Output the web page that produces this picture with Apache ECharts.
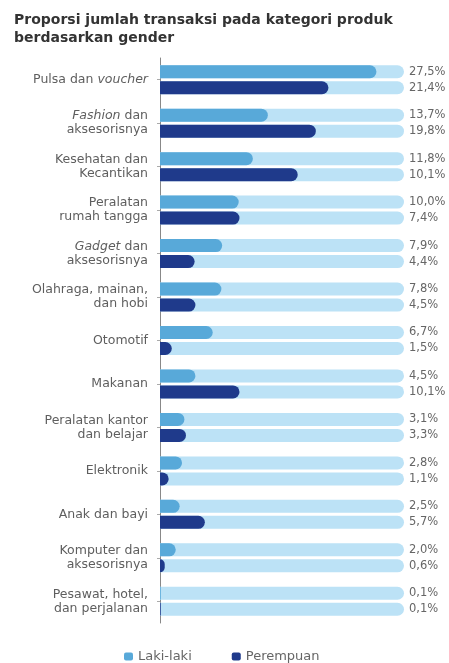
<!DOCTYPE html>
<html>
<head>
<meta charset="utf-8">
<script src="https://cdn.jsdelivr.net/npm/echarts@6/dist/echarts.min.js"></script>
<style>
html,body{margin:0;padding:0;background:#fff;}
#c{width:449px;height:663px;}
</style>
</head>
<body>
<div id="c"></div>
<script>
const titleText = 'Proporsi jumlah transaksi pada kategori produk\nberdasarkan gender';
const categories = ['Pulsa dan voucher','Fashion dan\naksesorisnya','Kesehatan dan\nKecantikan','Peralatan\nrumah tangga','Gadget dan\naksesorisnya','Olahraga, mainan,\ndan hobi','Otomotif','Makanan','Peralatan kantor\ndan belajar','Elektronik','Anak dan bayi','Komputer dan\naksesorisnya','Pesawat, hotel,\ndan perjalanan'];
const italicWords = ['voucher','Fashion','Gadget'];
const seriesNames = ['Laki-laki','Perempuan'];
// bar lengths as drawn in the picture
const maleBars = [27.5,13.7,11.8,10.0,7.9,7.8,6.7,4.5,3.1,2.8,2.5,2.0,0.1];
const femaleBars = [21.4,19.8,17.5,10.1,4.4,4.5,1.5,10.1,3.3,1.1,5.7,0.6,0.1];
// value labels as printed in the picture
const maleLabels = ['27,5%','13,7%','11,8%','10,0%','7,9%','7,8%','6,7%','4,5%','3,1%','2,8%','2,5%','2,0%','0,1%'];
const femaleLabels = ['21,4%','19,8%','10,1%','7,4%','4,4%','4,5%','1,5%','10,1%','3,3%','1,1%','5,7%','0,6%','0,1%'];
const trackMax = 31;

const C_LIGHT = '#58a9d9', C_DARK = '#1f3a8b', C_TRACK = '#bce2f6';
const FONT = 'DejaVu Sans';
const BW = 13, GAP = '23%';

const chart = echarts.init(document.getElementById('c'));
function catFmt(v){
  let s = v;
  italicWords.forEach(w => { s = s.replace(w, '{i|' + w + '}'); });
  return s;
}
const trackData = categories.map(() => trackMax);
chart.setOption({
  animation: false,
  title: {
    text: titleText, left: 9, top: 6,
    textStyle: {fontFamily: FONT, fontSize: 14, fontWeight: 'bold', color: '#333', lineHeight: 18}
  },
  legend: {
    data: seriesNames, top: 645, left: 119, itemWidth: 9, itemHeight: 8, itemGap: 40,
    icon: 'roundRect',
    textStyle: {fontFamily: FONT, fontSize: 13, color: '#666'}
  },
  grid: {left: 160, right: 45, top: 58, bottom: 40, containLabel: false},
  xAxis: {type: 'value', min: 0, max: trackMax, show: false},
  yAxis: [{
    type: 'category', data: categories, inverse: true,
    axisLine: {show: true, lineStyle: {color: '#888', width: 1}},
    axisTick: {show: true, alignWithLabel: true, length: 3, lineStyle: {color: '#aaa'}},
    axisLabel: {
      fontFamily: FONT, fontSize: 12.5, color: '#5e5e5e', lineHeight: 14, margin: 12, align: 'right',
      formatter: catFmt,
      rich: {i: {fontFamily: FONT, fontSize: 12.5, color: '#5e5e5e', fontStyle: 'italic', lineHeight: 14}}
    }
  }, {
    type: 'category', data: categories, inverse: true, show: false
  }],
  series: [
    {type: 'bar', yAxisIndex: 1, data: trackData, barWidth: BW, barGap: GAP, silent: true,
     itemStyle: {color: C_TRACK, borderRadius: [0, 7, 7, 0]},
     label: {show: true, position: 'right', distance: 5, fontFamily: FONT, fontSize: 11.5, color: '#666',
       formatter: p => maleLabels[p.dataIndex]}},
    {type: 'bar', yAxisIndex: 1, data: trackData, barWidth: BW, barGap: GAP, silent: true,
     itemStyle: {color: C_TRACK, borderRadius: [0, 7, 7, 0]},
     label: {show: true, position: 'right', distance: 5, fontFamily: FONT, fontSize: 11.5, color: '#666',
       formatter: p => femaleLabels[p.dataIndex]}},
    {name: seriesNames[0], type: 'bar', yAxisIndex: 0, data: maleBars, barWidth: BW, barGap: GAP,
     itemStyle: {color: C_LIGHT, borderRadius: [0, 7, 7, 0]}},
    {name: seriesNames[1], type: 'bar', yAxisIndex: 0, data: femaleBars, barWidth: BW, barGap: GAP,
     itemStyle: {color: C_DARK, borderRadius: [0, 7, 7, 0]}}
  ]
});
</script>
</body>
</html>
